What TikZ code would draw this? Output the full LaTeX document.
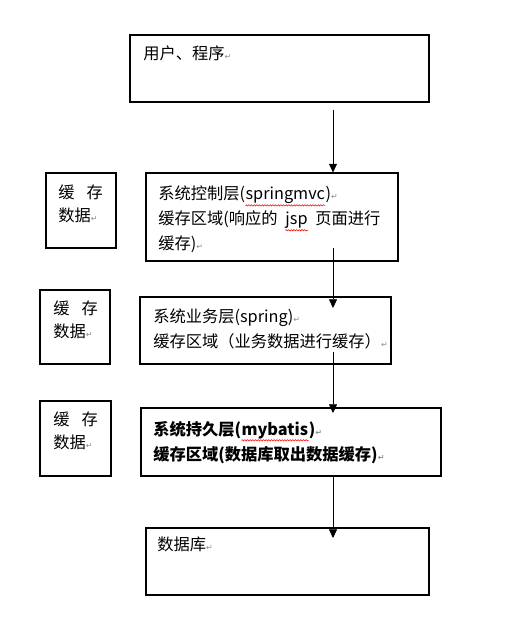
\documentclass[tikz,border=0pt]{standalone}
\usepackage{fontspec}
\setmainfont{Noto Sans CJK SC}
\newfontfamily\markfont{DejaVu Sans}
\usetikzlibrary{arrows.meta,fit,decorations.pathmorphing}
\newcommand\pmark{{\markfont\fontsize{6}{6}\selectfont\textcolor{black!45}{↵}}}
\newcommand\redwave[1]{\tikz[baseline=(w.base)]{\node[inner sep=0pt] (w) {#1};
  \draw[red,line width=0.4pt,decorate,decoration={snake,amplitude=0.5pt,segment length=2pt}]
    ([yshift=-0.8pt]w.south west) -- ([yshift=-0.8pt]w.south east);}}

\begin{document}
\begin{tikzpicture}[x=0.75pt,y=-0.75pt,>={Triangle[length=6.5pt,width=6pt]},
  box/.style={draw,line width=0.8pt,inner sep=0pt,fit={#1}},
  txt/.style={anchor=north west,inner sep=0pt,align=left,font=\fontsize{12.2}{18.75}\selectfont},
  side/.style={txt,font=\fontsize{12.2}{16.8}\selectfont}]
\useasboundingbox (0,0) rectangle (516,623);
% main layers
\node[box={(130,35) (429,102)}] (b1) {};
\node[box={(146,173) (398,261)}] (b2) {};
\node[box={(140,297) (391,364)}] (b3) {};
\node[box={(141,408) (441,476)}] (b4) {};
\node[box={(146,528) (429,595)}] (b5) {};
\node[txt] (t1) at (143,45) {用户、程序\pmark};
\node[txt] (t2) at (158,186) {系统控制层(\redwave{springmvc})\pmark\\缓存区域(响应的\ \ \redwave{jsp}\ \ 页面进行\\缓存)\pmark};
\node[txt] (t3) at (153,309) {系统业务层(spring)\pmark\\缓存区域（业务数据进行缓存）\pmark};
\node[txt,font=\fontsize{12.2}{18.75}\selectfont\bfseries] (t4) at (153,421) {系统持久层(\redwave{mybatis})\pmark\\缓存区域(数据库取出数据缓存)\pmark};
\node[txt] (t5) at (157,537) {数据库\pmark};
% cache boxes
\node[box={(46,173) (116,248)}] (c1) {};
\node[box={(40,290) (110,364)}] (c2) {};
\node[box={(40,401) (111,476)}] (c3) {};
\node[side] (d1) at (58,185) {缓\hspace{9pt}存\\数据\pmark};
\node[side] (d2) at (53,301) {缓\hspace{9pt}存\\数据\pmark};
\node[side] (d3) at (53,412) {缓\hspace{9pt}存\\数据\pmark};
% arrows
\coordinate (s1) at (333,110);
\coordinate (s2) at (333,248);
\coordinate (e2) at (333,308);
\coordinate (s3) at (333,352);
\coordinate (e3) at (333,413);
\coordinate (e4) at (333,538);
\draw[->] (s1) -- (s1 |- b2.north);
\draw[->] (s2) -- (e2);
\draw[->] (s3) -- (e3);
\draw[->] (e4 |- b4.south) -- (e4);
\end{tikzpicture}
\end{document}
